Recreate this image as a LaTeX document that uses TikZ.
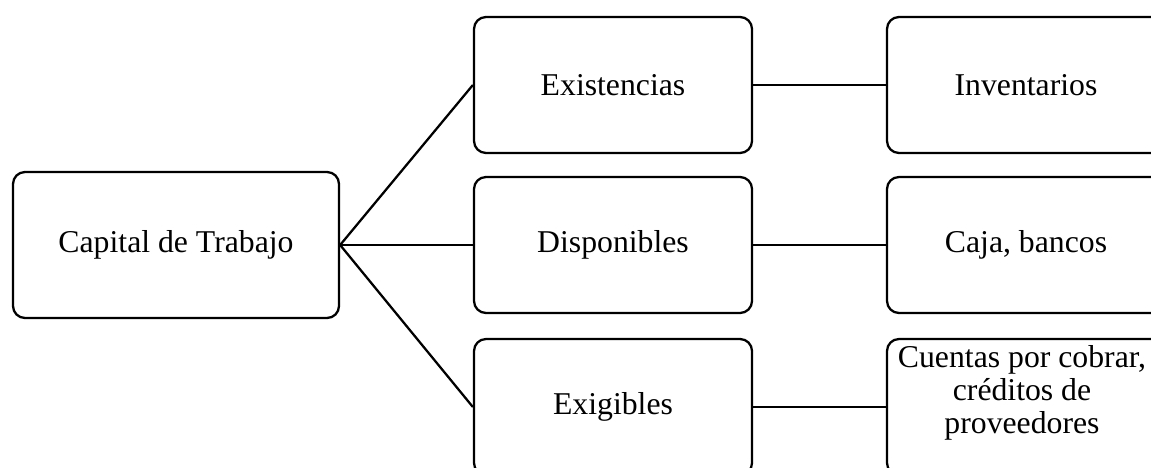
\documentclass[tikz,border=0pt]{standalone}
\usepackage{fontspec}
\setmainfont{Liberation Serif}
\begin{document}
\begin{tikzpicture}[x=0.75pt,y=-0.75pt,
  box/.style={draw=black,line width=1.7pt,rounded corners=9pt,inner sep=0pt,
    align=center,font=\fontsize{23.8}{24.75}\selectfont},
  mainbox/.style={box,minimum width=244.5pt,minimum height=109.5pt},
  itembox/.style={box,minimum width=208.5pt,minimum height=102pt},
  label/.style={inner sep=0pt,align=center,font=\fontsize{23.8}{24.75}\selectfont},
  link/.style={line width=1.7pt}]
  \useasboundingbox (0,0) rectangle (1151,467);
  \clip (0,0) rectangle (1151,467);

  % root
  \node[mainbox] (capital) at (176,245) {Capital de Trabajo};

  % first level
  \node[itembox] (exist) at (613,85) {Existencias};
  \node[itembox] (disp) at (613,245) {Disponibles};
  \node[itembox] (exig) at (613,407) {Exigibles};

  % second level
  \node[itembox] (inv) at (1026,85) {Inventarios};
  \node[itembox] (caja) at (1026,245) {Caja, bancos};
  \node[itembox] (cuentas) at (1026,407) {};
  \node[label] (cuentastxt) at (1022,393) {Cuentas por cobrar,\\créditos de\\proveedores};

  % connectors
  \draw[link] (capital.east) -- (exist.west);
  \draw[link] (capital.east) -- (disp.west);
  \draw[link] (capital.east) -- (exig.west);
  \draw[link] (exist.east) -- (inv.west);
  \draw[link] (disp.east) -- (caja.west);
  \draw[link] (exig.east) -- (cuentas.west);
\end{tikzpicture}
\end{document}
